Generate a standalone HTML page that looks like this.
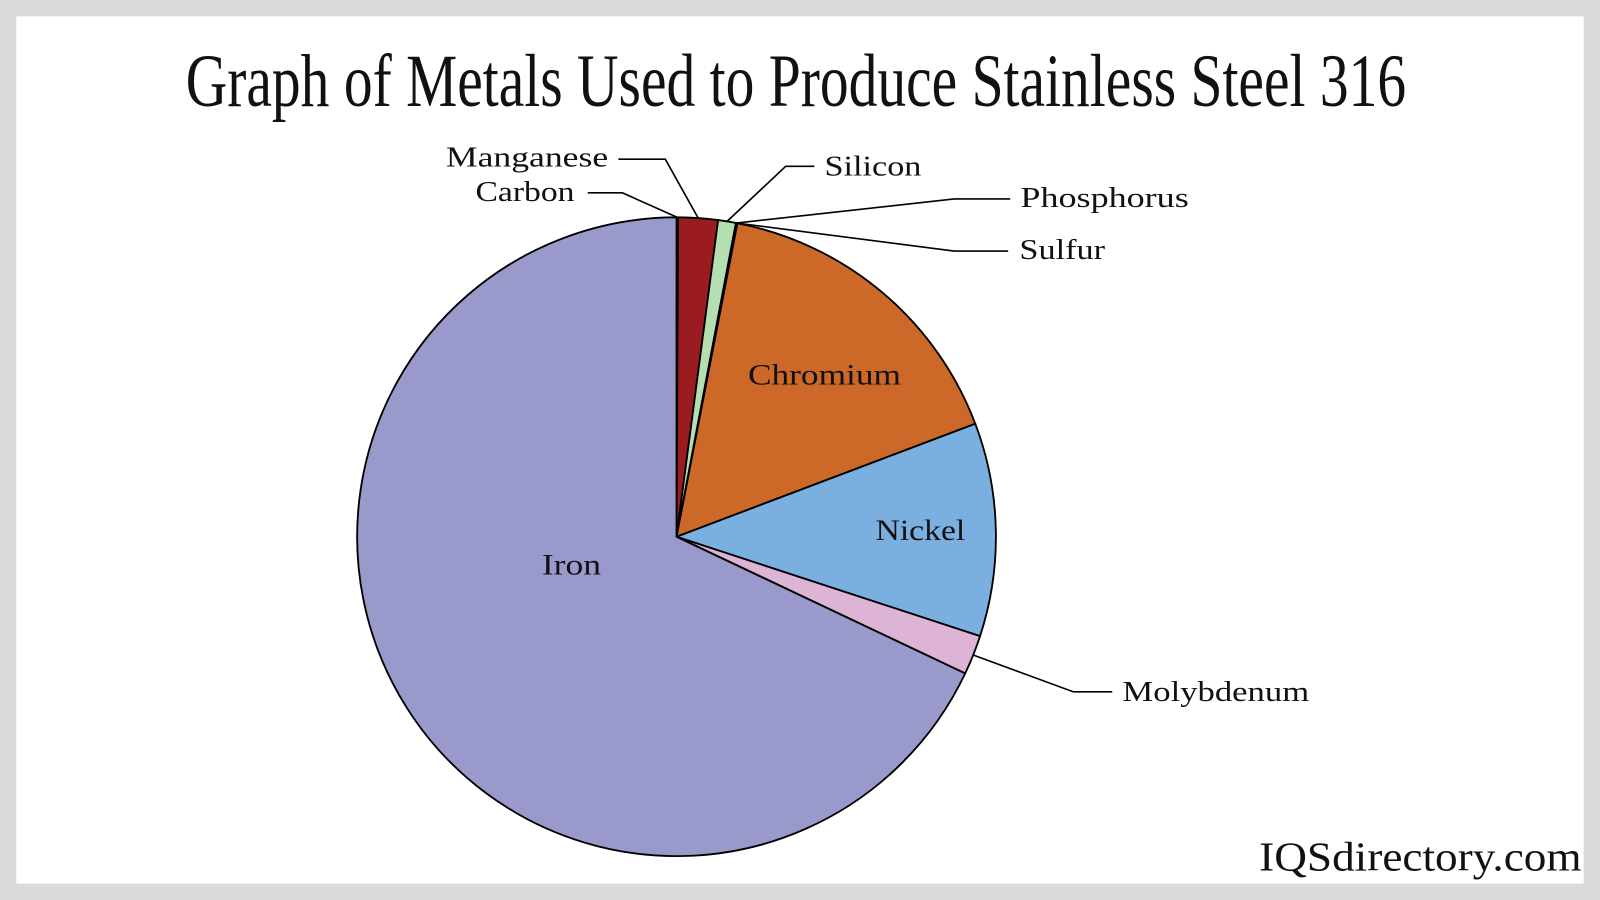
<!DOCTYPE html>
<html><head><meta charset="utf-8"><style>
html,body{margin:0;padding:0;width:1600px;height:900px;overflow:hidden;background:#dadada}
svg{display:block}
text{font-family:"Liberation Serif","DejaVu Serif",serif;fill:#111}
</style></head><body>
<svg id="chart" width="1600" height="900" viewBox="0 0 1568 882" preserveAspectRatio="none" xmlns="http://www.w3.org/2000/svg">
<rect x="0" y="0" width="1568" height="882" fill="#dadada"/>
<rect x="16" y="16" width="1536" height="850" fill="#ffffff"/>
<text x="780" y="104" text-anchor="middle" font-size="74" textLength="1196" lengthAdjust="spacingAndGlyphs">Graph of Metals Used to Produce Stainless Steel 316</text>
<g id="slices"></g>
<g id="labels"></g>
<text x="1550" y="853" text-anchor="end" font-size="40" textLength="316" lengthAdjust="spacingAndGlyphs">IQSdirectory.com</text>
</svg>
<script>
const categories = ["Carbon","Manganese","Silicon","Phosphorus","Sulfur","Chromium","Nickel","Molybdenum","Iron"];
const values = [0.08, 2, 0.9, 0.045, 0.03, 16.2, 10.8, 2, 68];
const colors = ["#9999cc","#9b1c20","#b5dfb0","#cc6828","#cc6828","#cc6828","#7aafe0","#deb4d6","#9999cc"];

const ns = "http://www.w3.org/2000/svg";
const cx = 663, cy = 526, r = 313;
const total = values.reduce((a,b)=>a+b,0);
function angleOf(v){ return v/total*2*Math.PI; }
function pt(a, rr){ return [cx + rr*Math.sin(a), cy - rr*Math.cos(a)]; }
const slicesG = document.getElementById('slices');
const labelsG = document.getElementById('labels');
let acc = 0;
const mids = [];
values.forEach((v,i)=>{
  const a0 = angleOf(acc), a1 = angleOf(acc+v);
  acc += v;
  mids.push([a0,a1]);
  const p0 = pt(a0,r), p1 = pt(a1,r);
  const large = (a1-a0) > Math.PI ? 1 : 0;
  const path = document.createElementNS(ns,'path');
  path.setAttribute('d',`M${cx},${cy} L${p0[0]},${p0[1]} A${r},${r} 0 ${large} 1 ${p1[0]},${p1[1]} Z`);
  path.setAttribute('fill',colors[i]);
  path.setAttribute('stroke','#000');
  path.setAttribute('stroke-width','1.8');
  path.setAttribute('stroke-linejoin','round');
  
  
  slicesG.appendChild(path);
});

const inside = {"Chromium":[808,377,150],"Nickel":[902,529,88],"Iron":[560,563,58]};
const outside = {
  "Manganese":{t:[596,163],w:159,anc:"end",line:[[606,156],[652,156]]},
  "Carbon":{t:[563,197],w:97,anc:"end",line:[[576,189],[610,189]]},
  "Silicon":{t:[808,172],w:95,anc:"start",line:[[798,163],[770,163]]},
  "Phosphorus":{t:[1000,203],w:165,anc:"start",line:[[990,195],[935,195]]},
  "Sulfur":{t:[999,254],w:84,anc:"start",line:[[988,246],[935,246]]},
  "Molybdenum":{t:[1100,687],w:183,anc:"start",line:[[1090,678],[1052,678]]}
};
categories.forEach((c,i)=>{
  if(inside[c]){
    const t = document.createElementNS(ns,'text');
    t.setAttribute('x',inside[c][0]); t.setAttribute('y',inside[c][1]);
    t.setAttribute('text-anchor','middle'); t.setAttribute('font-size','29');
    t.setAttribute('textLength',inside[c][2]); t.setAttribute('lengthAdjust','spacingAndGlyphs');
    t.textContent = c;
    
    
    labelsG.appendChild(t);
  } else if(outside[c]){
    const o = outside[c];
    const am = (mids[i][0]+mids[i][1])/2;
    const e = pt(am, r);
    const pl = document.createElementNS(ns,'polyline');
    pl.setAttribute('points', `${o.line[0][0]},${o.line[0][1]} ${o.line[1][0]},${o.line[1][1]} ${e[0]},${e[1]}`);
    pl.setAttribute('fill','none'); pl.setAttribute('stroke','#000'); pl.setAttribute('stroke-width','1.6');
    
    
    labelsG.appendChild(pl);
    const t = document.createElementNS(ns,'text');
    t.setAttribute('x',o.t[0]); t.setAttribute('y',o.t[1]);
    t.setAttribute('text-anchor',o.anc); t.setAttribute('font-size','28');
    t.setAttribute('textLength',o.w); t.setAttribute('lengthAdjust','spacingAndGlyphs');
    t.textContent = c;
    
    
    labelsG.appendChild(t);
  }
});
</script>
</body></html>
